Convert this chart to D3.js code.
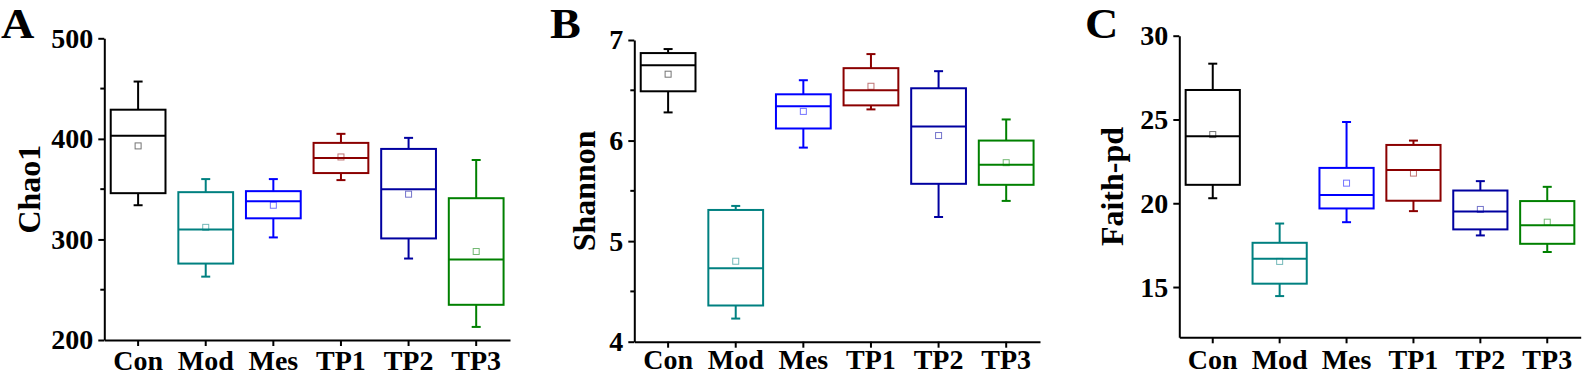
<!DOCTYPE html>
<html>
<head>
<meta charset="utf-8">
<script src="https://cdnjs.cloudflare.com/ajax/libs/d3/7.8.5/d3.min.js"></script>
<style>
  html, body { margin: 0; padding: 0; background: #fff; }
  svg { display: block; }
  text { font-family: "Liberation Serif", "Times New Roman", serif; font-weight: bold; }
</style>
</head>
<body>
<svg id="chart" width="1594" height="376"></svg>
<script>
const categories = ["Con", "Mod", "Mes", "TP1", "TP2", "TP3"];
const colors = ["#000000", "#008080", "#0000FF", "#8B0000", "#0000A0", "#008000"];

// each row: [lower whisker, Q1, median, Q3, upper whisker, mean]
const chao1 = [
  [334, 346, 403, 429, 457, 393],
  [263, 276, 310, 347, 360, 312],
  [302, 321, 338, 348, 360, 334],
  [359, 366, 381, 396, 405, 382],
  [281, 301, 350, 390, 401, 345],
  [213, 235, 280, 341, 379, 288]
];
const shannon = [
  [6.28, 6.49, 6.75, 6.87, 6.91, 6.66],
  [4.23, 4.36, 4.73, 5.31, 5.35, 4.80],
  [5.93, 6.12, 6.34, 6.46, 6.60, 6.29],
  [6.31, 6.35, 6.50, 6.72, 6.86, 6.54],
  [5.24, 5.57, 6.14, 6.52, 6.69, 6.05],
  [5.40, 5.56, 5.76, 6.00, 6.21, 5.78]
];
const faith = [
  [20.3, 21.1, 24.0, 26.76, 28.33, 24.1],
  [14.46, 15.2, 16.69, 17.64, 18.79, 16.53],
  [18.87, 19.69, 20.5, 22.11, 24.85, 21.2],
  [19.53, 20.15, 21.99, 23.48, 23.74, 21.8],
  [18.08, 18.44, 19.51, 20.76, 21.32, 19.63],
  [17.09, 17.58, 18.68, 20.13, 20.98, 18.87]
];

const chao1Ticks = [200, 300, 400, 500];
const chao1Minor = [250, 350, 450];
const shannonTicks = [4, 5, 6, 7];
const shannonMinor = [4.5, 5.5, 6.5];
const faithTicks = [15, 20, 25, 30];
const faithMinor = [];

const panels = [
  { letter: "A", title: "Chao1", data: chao1, domain: [200, 500], ticks: chao1Ticks, minor: chao1Minor,
    left: 104.3, right: 510, top: 38.3, bottom: 340, letterX: 1, letterY: 38, titleX: 40 },
  { letter: "B", title: "Shannon", data: shannon, domain: [4, 7], ticks: shannonTicks, minor: shannonMinor,
    left: 634.3, right: 1040, top: 40, bottom: 341.7, letterX: 550, letterY: 38, titleX: 595 },
  { letter: "C", title: "Faith-pd", data: faith, domain: [12, 30], ticks: faithTicks, minor: faithMinor,
    left: 1179.3, right: 1580.7, top: 35.7, bottom: 337.3, letterX: 1085, letterY: 38, titleX: 1123 }
];

const labelBaseline = 369.5;
const svg = d3.select("#chart");

panels.forEach(p => {
  const g = svg.append("g");
  const x = d3.scaleBand().domain(categories).range([p.left, p.right]).padding(0);
  const y = d3.scaleLinear().domain(p.domain).range([p.bottom, p.top]);

  // panel letter
  svg.append("text")
    .attr("x", p.letterX).attr("y", p.letterY)
    .attr("font-size", 42)
    .attr("transform", `translate(${p.letterX},0) scale(1.1,1) translate(${-p.letterX},0)`)
    .text(p.letter);

  // y axis title
  svg.append("text")
    .attr("transform", `translate(${p.titleX},${(p.top + p.bottom) / 2}) rotate(-90)`)
    .attr("text-anchor", "middle")
    .attr("font-size", 32)
    .text(p.title);

  // y axis
  const yAxis = g.append("g")
    .attr("transform", `translate(${p.left},0)`)
    .call(d3.axisLeft(y).tickValues(p.ticks).tickSize(6).tickPadding(5).tickSizeOuter(0).tickFormat(d3.format("d")));
  yAxis.select(".domain").attr("stroke-width", 2);
  yAxis.selectAll(".tick line").attr("stroke-width", 2);
  yAxis.selectAll(".tick text")
    .attr("font-size", 28)
    .attr("font-family", "'Liberation Serif', serif")
    .attr("font-weight", "bold")
    .attr("fill", "#000");

  // minor ticks
  g.selectAll(".minor")
    .data(p.minor)
    .enter().append("line")
    .attr("x1", p.left - 4).attr("x2", p.left)
    .attr("y1", d => y(d)).attr("y2", d => y(d))
    .attr("stroke", "#000").attr("stroke-width", 2);

  // x axis
  const xAxis = g.append("g")
    .attr("transform", `translate(0,${p.bottom})`)
    .call(d3.axisBottom(x).tickSize(6).tickPadding(9).tickSizeOuter(0));
  xAxis.select(".domain").attr("stroke-width", 2);
  xAxis.selectAll(".tick line").attr("stroke-width", 2);
  xAxis.selectAll(".tick text")
    .attr("y", labelBaseline - p.bottom)
    .attr("dy", 0)
    .attr("font-size", 28)
    .attr("font-family", "'Liberation Serif', serif")
    .attr("font-weight", "bold")
    .attr("fill", "#000");

  // boxes
  const bw = x.bandwidth() * 0.81;
  const capW = 9;
  const boxes = g.selectAll(".box")
    .data(p.data.map((d, i) => ({ d, cat: categories[i], color: colors[i] })))
    .enter().append("g");

  boxes.each(function(b) {
    const sel = d3.select(this);
    const cx = x(b.cat) + x.bandwidth() / 2;
    const [lo, q1, med, q3, hi, mean] = b.d;
    sel.append("line").attr("x1", cx).attr("x2", cx).attr("y1", y(hi)).attr("y2", y(q3))
      .attr("stroke", b.color).attr("stroke-width", 2);
    sel.append("line").attr("x1", cx).attr("x2", cx).attr("y1", y(q1)).attr("y2", y(lo))
      .attr("stroke", b.color).attr("stroke-width", 2);
    sel.append("line").attr("x1", cx - capW / 2).attr("x2", cx + capW / 2).attr("y1", y(hi)).attr("y2", y(hi))
      .attr("stroke", b.color).attr("stroke-width", 2);
    sel.append("line").attr("x1", cx - capW / 2).attr("x2", cx + capW / 2).attr("y1", y(lo)).attr("y2", y(lo))
      .attr("stroke", b.color).attr("stroke-width", 2);
    sel.append("rect")
      .attr("x", cx - bw / 2).attr("width", bw)
      .attr("y", y(q3)).attr("height", y(q1) - y(q3))
      .attr("fill", "none").attr("stroke", b.color).attr("stroke-width", 2);
    sel.append("line").attr("x1", cx - bw / 2).attr("x2", cx + bw / 2).attr("y1", y(med)).attr("y2", y(med))
      .attr("stroke", b.color).attr("stroke-width", 2);
    sel.append("rect")
      .attr("x", cx - 3).attr("y", y(mean) - 3).attr("width", 6).attr("height", 6)
      .attr("fill", "none").attr("stroke", b.color).attr("stroke-opacity", 0.55).attr("stroke-width", 1);
  });
});
</script>
</body>
</html>
